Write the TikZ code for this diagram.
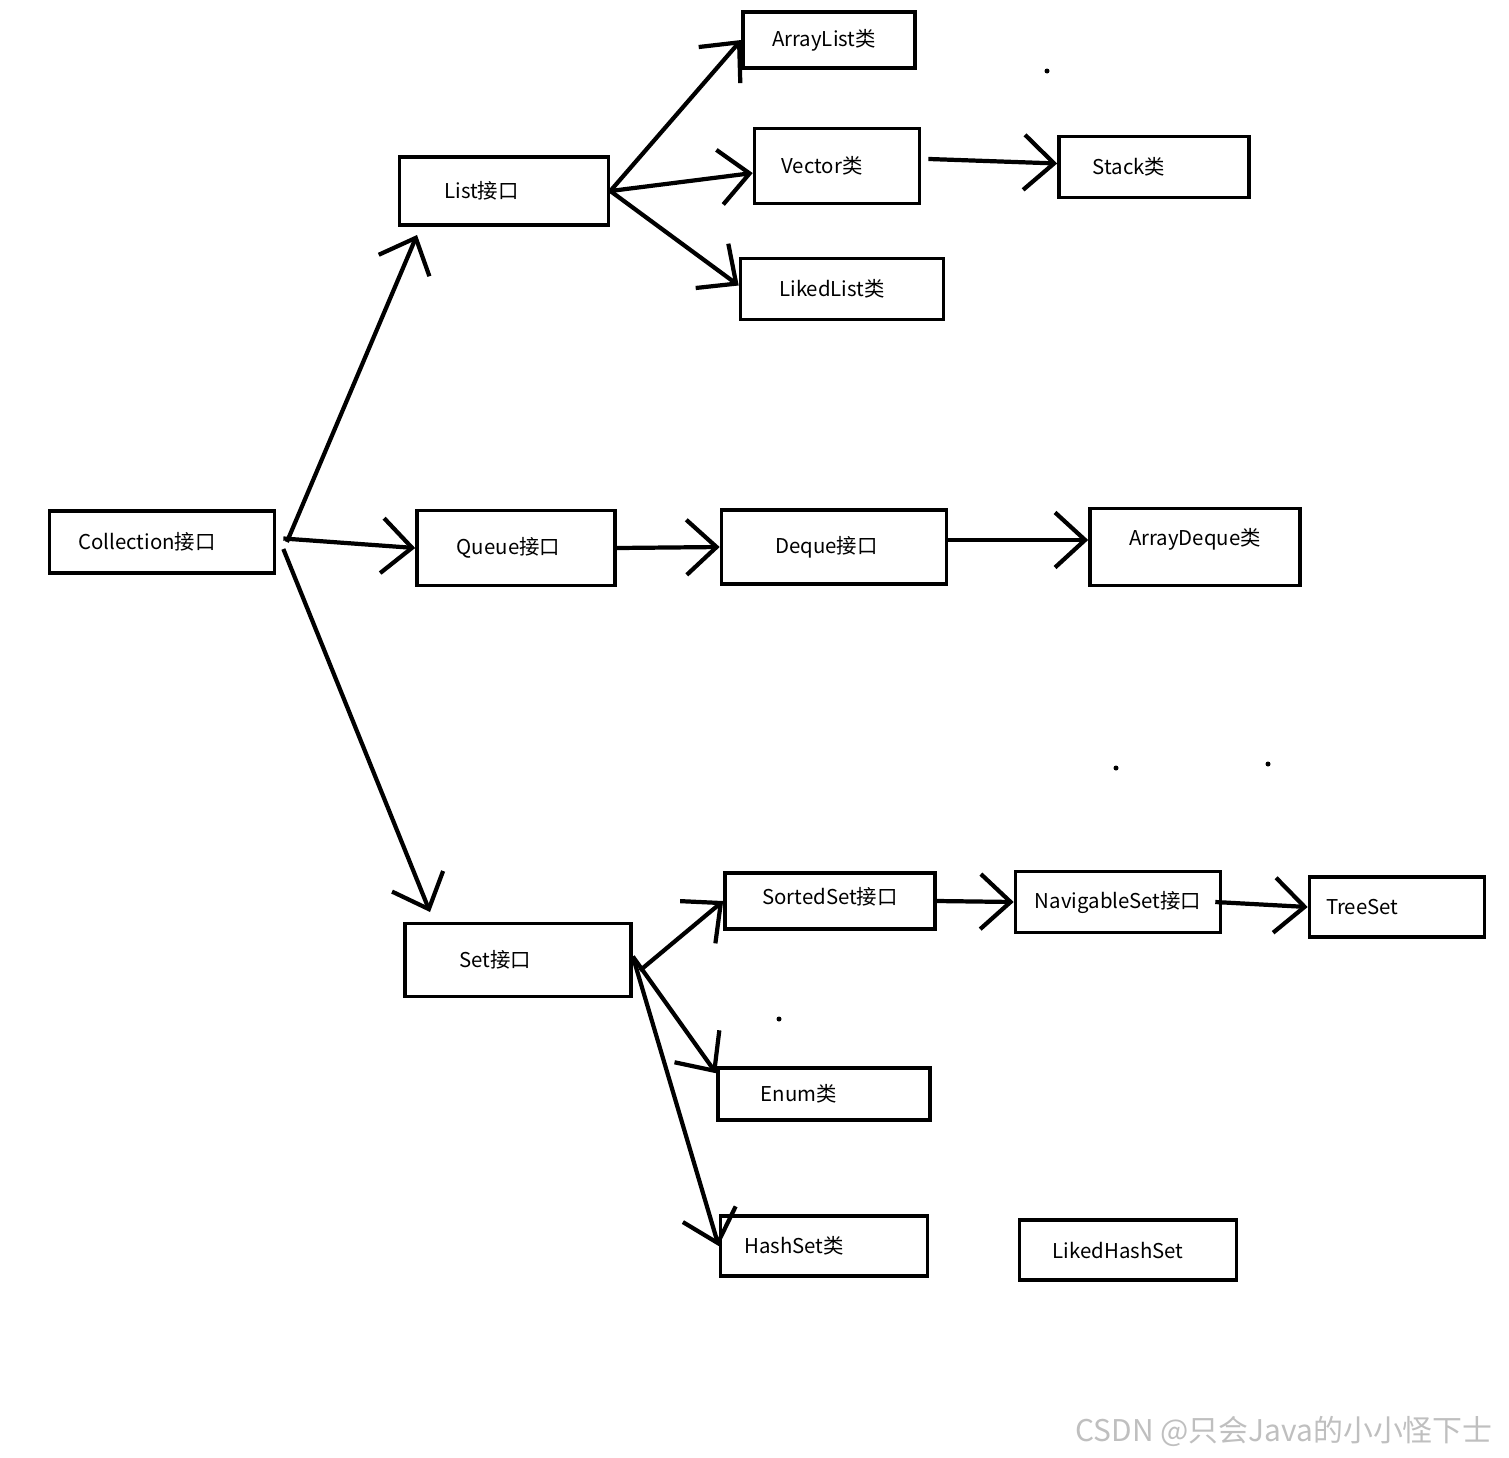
\documentclass[tikz,border=0pt]{standalone}
\usepackage{fontspec}
\setmainfont{Noto Sans CJK SC}
\usetikzlibrary{arrows.meta}
\tikzset{
  box/.style={draw,line width=1pt,inner sep=0pt,font=\fontsize{5.8}{6.5}\selectfont},
  link/.style={-{Straight Barb[length=0.3cm,width=0.55cm]},line width=1.2pt},
}
\begin{document}
\begin{tikzpicture}[x=0.01cm,y=-0.01cm]
\useasboundingbox (0,0) rectangle (1509,1457);

\node[box,minimum width=2.25cm,minimum height=0.62cm] (coll) at (162,542) {\hspace*{-0.3cm}Collection接口};
\node[box,minimum width=2.09cm,minimum height=0.68cm] (list) at (504,191) {\hspace*{-0.45cm}List接口};
\node[box,minimum width=1.72cm,minimum height=0.56cm] (alist) at (829,40) {\hspace*{-0.1cm}ArrayList类};
\node[box,minimum width=1.65cm,minimum height=0.75cm] (vec) at (837,166) {\hspace*{-0.3cm}Vector类};
\node[box,minimum width=1.90cm,minimum height=0.61cm] (stack) at (1154,167) {\hspace*{-0.5cm}Stack类};
\node[box,minimum width=2.03cm,minimum height=0.61cm] (llist) at (842,289) {\hspace*{-0.2cm}LikedList类};
\node[box,minimum width=1.98cm,minimum height=0.75cm] (queue) at (516,548) {\hspace*{-0.15cm}Queue接口};
\node[box,minimum width=2.25cm,minimum height=0.74cm] (deque) at (834,547) {\hspace*{-0.15cm}Deque接口};
\node[box,minimum width=2.10cm,minimum height=0.77cm] (adeque) at (1195,547) {\raisebox{0.2cm}{ArrayDeque类}};
\node[box,minimum width=2.26cm,minimum height=0.73cm] (set) at (518,960) {\hspace*{-0.45cm}Set接口};
\node[box,minimum width=2.10cm,minimum height=0.56cm] (sset) at (830,901) {\raisebox{0.1cm}{SortedSet接口}};
\node[box,minimum width=2.05cm,minimum height=0.61cm] (nset) at (1118,902) {NavigableSet接口};
\node[box,minimum width=1.75cm,minimum height=0.60cm] (tset) at (1397,907) {\hspace*{-0.7cm}TreeSet};
\node[box,minimum width=2.12cm,minimum height=0.52cm] (enum) at (824,1094) {\hspace*{-0.5cm}Enum类};
\node[box,minimum width=2.07cm,minimum height=0.60cm] (hset) at (824,1246) {\hspace*{-0.6cm}HashSet类};
\node[box,minimum width=2.17cm,minimum height=0.60cm] (lhset) at (1128,1250) {\hspace*{-0.2cm}LikedHashSet};

% connectors
\draw[link] ([xshift=3pt]coll.east) -- (417,235);
\draw[link] ([yshift=1pt,xshift=2pt]coll.east) -- (queue.west);
\draw[link] ([yshift=-2pt,xshift=2pt]coll.east) -- (430,912);
\draw[link] (list.east) -- (alist.west);
\draw[link] (list.east) -- ([yshift=-2pt]vec.west);
\draw[link] (list.east) -- ([yshift=1pt]llist.west);
\draw[link] ([yshift=2pt,xshift=2pt]vec.east) -- ([yshift=1pt]stack.west);
\draw[link] (queue.east) -- (deque.west);
\draw[link] ([yshift=2pt]deque.east) -- ([yshift=2pt]adeque.west);
\draw[link] ([yshift=-3pt,xshift=2pt]set.east) -- (sset.west);
\draw[link] (sset.east) -- (nset.west);
\draw[link] ([xshift=-2pt]nset.east) -- (tset.west);
\draw[link] ([yshift=1pt]set.east) -- ([yshift=-2pt]enum.north west);
\draw[link] ([yshift=1pt]set.east) -- (hset.west);

% stray dots
\foreach \p in {(1047,71),(1116,768),(1268,764),(779,1019)}
  \fill \p circle (2.5);

\node[text=black!25,font=\fontsize{8.5}{9}\selectfont,anchor=east] (mark) at (1505,1431) {CSDN @只会Java的小小怪下士};
\end{tikzpicture}
\end{document}
